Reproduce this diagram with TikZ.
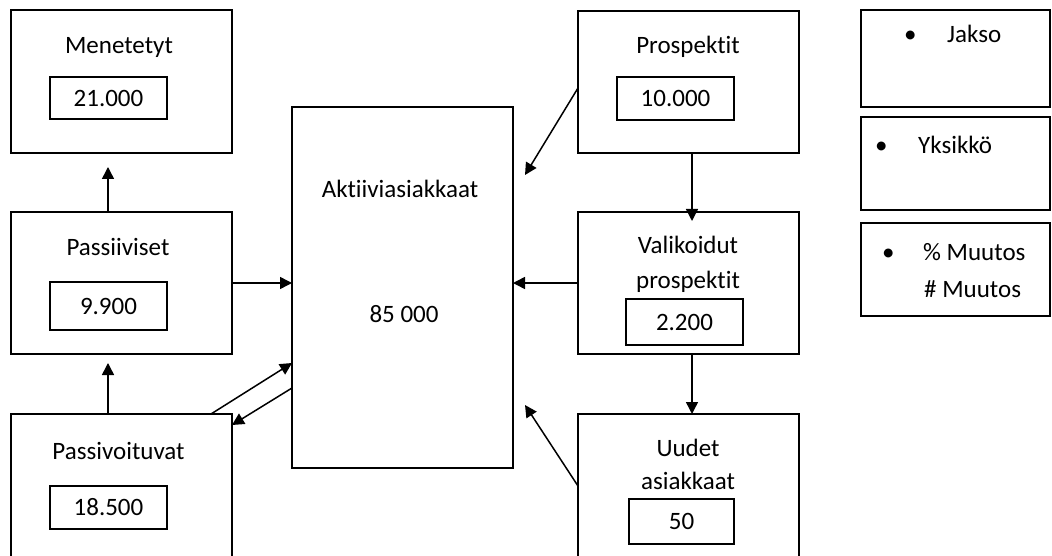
\documentclass[tikz,border=0pt]{standalone}
\usepackage{fontspec}
\setmainfont{Carlito}[Ligatures=NoCommon]
\usetikzlibrary{arrows.meta}
\begin{document}
\begin{tikzpicture}[x=1pt,y=-1pt,
  every node/.style={font=\fontsize{25}{30}\selectfont},
  box/.style={draw, line width=1.5pt, inner sep=0pt, outer sep=0pt},
  valbox/.style={draw, line width=1.5pt, inner sep=0pt, outer sep=0pt, minimum width=117pt},
  title/.style={anchor=base, inner sep=0pt},
  item/.style={anchor=base west, inner sep=0pt},
  arr/.style={line width=1.5pt, -{Triangle[length=12pt,width=12pt]}}]
\useasboundingbox (0,0) rectangle (1052,556);
\clip (0,0) rectangle (1052,556);

% left column
\node[box, minimum width=221pt, minimum height=143pt] (men) at (121.5,81.5) {};
\node[title] (mentitle) at (119,54) {Menetetyt};
\node[valbox, minimum height=42pt] (menval) at (108.5,98) {21.000};

\node[box, minimum width=221pt, minimum height=142pt] (pas) at (121.5,283) {};
\node[title] (pastitle) at (118,255) {Passiiviset};
\node[valbox, minimum height=48pt] (pasval) at (108.5,306) {9.900};

\node[box, minimum width=221pt, minimum height=143pt] (pvt) at (121.5,485.5) {};
\node[title] (pvttitle) at (118.5,459) {Passivoituvat};
\node[valbox, minimum height=43pt] (pvtval) at (108.5,507.5) {18.500};

% centre
\node[box, minimum width=221pt, minimum height=361pt] (akt) at (402.5,287.5) {};
\node[title] (akttitle) at (400,198) {Aktiiviasiakkaat};
\node[title] (aktval) at (404,322) {85 000};

% right column
\node[box, minimum width=221pt, minimum height=142pt] (pro) at (688.5,82) {};
\node[title] (protitle) at (688,54) {Prospektit};
\node[valbox, minimum height=43pt] (proval) at (675.5,98.5) {10.000};

\node[box, minimum width=221pt, minimum height=142pt] (val) at (688.5,283) {};
\node[title] (valtitle1) at (688,253) {Valikoidut};
\node[title] (valtitle2) at (688,288) {prospektit};
\node[valbox, minimum height=46pt] (valval) at (684.5,322) {2.200};

\node[box, minimum width=221pt, minimum height=143pt] (uud) at (688.5,485.5) {};
\node[title] (uudtitle1) at (688,456) {Uudet};
\node[title] (uudtitle2) at (688,489) {asiakkaat};
\node[valbox, minimum width=105pt, minimum height=45pt] (uudval) at (681.5,521.5) {50};

% legend boxes
\node[box, minimum width=189pt, minimum height=97pt] (r1) at (955.5,58.5) {};
\node[item] (b1) at (904,43) {•};
\node[item] (t1) at (947,43) {Jakso};
\node[box, minimum width=189pt, minimum height=93pt] (r2) at (955.5,163.5) {};
\node[item] (b2) at (875,154) {•};
\node[item] (t2) at (918,154) {Yksikkö};
\node[box, minimum width=189pt, minimum height=93pt] (r3) at (955.5,269.5) {};
\node[item] (b3) at (882,260) {•};
\node[item] (t3) at (923,260) {\% Muutos};
\node[item] (t4) at (924,297) {\# Muutos};

% connectors
\draw[arr] ([xshift=-13.5pt]pas.north) -- ([xshift=-13.5pt,yshift=-14pt]men.south);
\draw[arr] ([xshift=-13.5pt]pvt.north) -- ([xshift=-13.5pt,yshift=-9pt]pas.south);
\draw[arr] (pas.east) -- (pas.east -| akt.west);
\draw[arr] (val.west) -- (val.west -| akt.east);
\draw[arr] ([xshift=3.5pt]pro.south) -- ([xshift=3.5pt,yshift=-9pt]val.north);
\draw[arr] ([xshift=3.5pt]val.south) -- ([xshift=3.5pt]uud.north);
\coordinate (tp) at (525,175);
\coordinate (tu) at (525,405);
\draw[arr] ([yshift=-6pt]pro.west) -- (tp);
\draw[arr] ([yshift=-0.5pt]uud.west) -- (tu);
\draw[arr] ([xshift=-21pt]pvt.north east) -- ([yshift=-75.5pt]akt.west);
\draw[arr] ([yshift=-100.5pt]akt.west) -- ([yshift=-11pt]pvt.north east);
\end{tikzpicture}
\end{document}
